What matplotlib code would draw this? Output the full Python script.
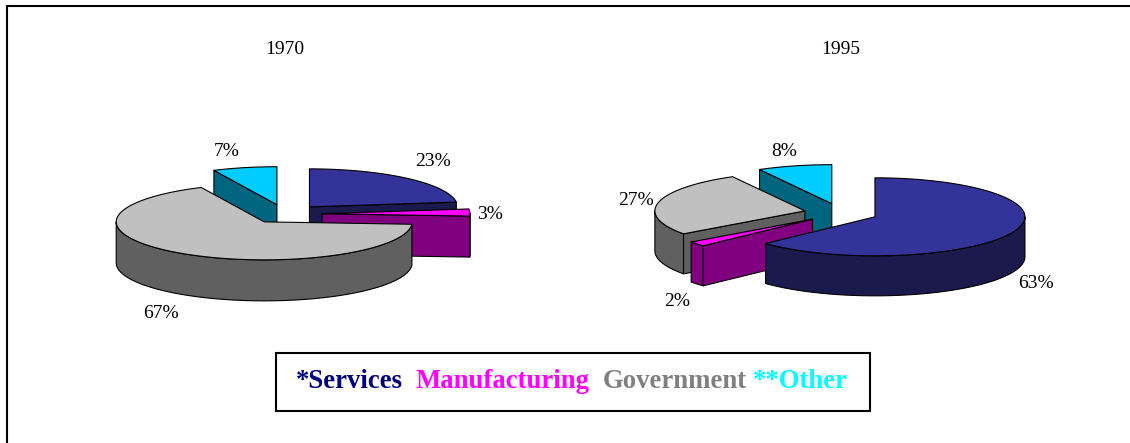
import numpy as np
import matplotlib
matplotlib.use("Agg")
import matplotlib.pyplot as plt
from matplotlib.patches import Polygon, Rectangle

plt.rcParams["font.family"] = ["Liberation Serif", "DejaVu Serif"]

categories = ["*Services", "Manufacturing", "Government", "**Other"]
shares_1970 = [23, 3, 67, 7]
shares_1995 = [63, 2, 27, 8]

top_colors = ["#333399", "#FF00FF", "#C0C0C0", "#00CCFF"]
side_colors = ["#1A1A4D", "#800080", "#606060", "#006680"]
legend_colors = ["#000080", "#FF00FF", "#808080", "#00FFFF"]


def rim(center, rx, ry, a, b, n=80):
    # angles run clockwise from 12 o'clock, y axis points down
    t = np.radians(np.linspace(a, b, n))
    return np.column_stack([center[0] + rx * np.sin(t), center[1] - ry * np.cos(t)])


def draw_slice(ax, c, rx, ry, depth, a, b, top, side):
    kw = dict(edgecolor="black", linewidth=0.8, joinstyle="round")

    # outer wall, only the part that faces the viewer
    lo, hi = max(a, 90), min(b, 270)
    if hi > lo:
        arc = rim(c, rx, ry, lo, hi)
        ax.add_patch(Polygon(np.vstack([arc, arc[::-1] + [0, depth]]), facecolor=side, **kw))

    # cut faces
    for ang, visible in ((a, np.sin(np.radians(a)) < -1e-6), (b, np.sin(np.radians(b)) > 1e-6)):
        if visible:
            p = rim(c, rx, ry, ang, ang, 1)[0]
            face = [c, p, p + [0, depth], np.array(c) + [0, depth]]
            ax.add_patch(Polygon(face, facecolor=side, **kw))

    ax.add_patch(Polygon(np.vstack([[c], rim(c, rx, ry, a, b)]), facecolor=top, **kw))


def draw_pie(ax, shares, center, rx, ry, depth, explode, order):
    edges = np.cumsum([0] + shares) * 3.6
    for i in order:
        a, b = edges[i], edges[i + 1]
        mid = np.radians((a + b) / 2)
        c = (center[0] + explode * np.sin(mid), center[1] - explode * ry / rx * np.cos(mid))
        draw_slice(ax, c, rx, ry, depth, a, b, top_colors[i], side_colors[i])


fig = plt.figure(figsize=(11.3, 4.43), dpi=100)
ax = fig.add_axes([0, 0, 1, 1])
ax.set_xlim(0, 1130)
ax.set_ylim(443, 0)
ax.axis("off")

# outer frame: left and top rules only, both run off the canvas
ax.plot([6.5, 6.5, 1130], [443, 5.5, 5.5], color="black", lw=1.5, solid_joinstyle="miter")

draw_pie(ax, shares_1970, (285, 214), 148, 38, 41, 37, [3, 0, 1, 2])
draw_pie(ax, shares_1995, (841, 213), 150, 39, 40, 37, [3, 2, 1, 0])

ax.text(285, 49, "1970", ha="center", va="center", fontsize=14)
ax.text(841, 49, "1995", ha="center", va="center", fontsize=14)

# percentage labels: services, manufacturing, government, other
pos_1970 = [(433, 162), (490, 214), (161, 314), (227, 151)]
pos_1995 = [(1036, 284), (677, 301), (636, 200), (784, 151)]
for shares, pos in ((shares_1970, pos_1970), (shares_1995, pos_1995)):
    for v, (x, y) in zip(shares, pos):
        ax.text(x, y, f"{v}%", ha="center", va="center", fontsize=14)

# legend box
ax.add_patch(Rectangle((276, 353), 594, 58, facecolor="white", edgecolor="black", lw=1.5))
legend_x = [296, 415, 603, 753]
for name, col, x in zip(categories, legend_colors, legend_x):
    ax.text(x, 382, name, color=col, ha="left", va="center", fontsize=19.3, fontweight="bold")

fig.savefig("out.png", dpi=100)
